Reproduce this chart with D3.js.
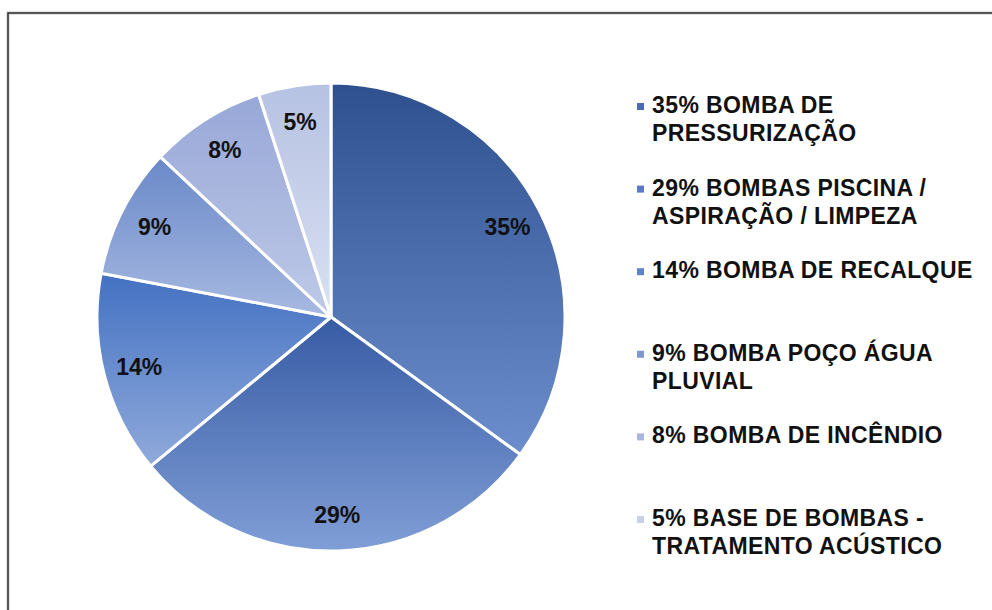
<!DOCTYPE html>
<html>
<head>
<meta charset="utf-8">
<script src="https://cdn.jsdelivr.net/npm/d3@7"></script>
<style>
  body { margin: 0; background: #fff; }
  text { font-family: "Liberation Sans", Arial, sans-serif; }
</style>
</head>
<body>
<div id="chart"></div>
<script>
// data
var categories = [
  "BOMBA DE\nPRESSURIZAÇÃO",
  "BOMBAS PISCINA /\nASPIRAÇÃO / LIMPEZA",
  "BOMBA DE RECALQUE",
  "BOMBA POÇO ÁGUA\nPLUVIAL",
  "BOMBA DE INCÊNDIO",
  "BASE DE BOMBAS -\nTRATAMENTO ACÚSTICO"
];
var values = [35, 29, 14, 9, 8, 5];
// gradient top / bottom per slice
var colorTop = ["#2e508f", "#375ba4", "#4371c2", "#6a89c9", "#97a7d7", "#b6c2e3"];
var colorBottom = ["#6c8ecd", "#809ed6", "#90aadb", "#a7b9e1", "#bfcae8", "#d9e0f1"];
var colorKey = ["#4a6db0", "#5a7cbf", "#5f83c9", "#8098d2", "#a8b6df", "#c8d1ea"];

var width = 992, height = 610;
var cx = 331, cy = 317, radius = 234;

var svg = d3.select("#chart")
  .append("svg")
  .attr("width", width)
  .attr("height", height);

// frame
svg.append("rect")
  .attr("x", 8)
  .attr("y", 13)
  .attr("width", 1000)
  .attr("height", 640)
  .style("fill", "none")
  .style("stroke", "#dcdcdc")
  .style("stroke-width", 3.5);
svg.append("rect")
  .attr("x", 8)
  .attr("y", 13)
  .attr("width", 1000)
  .attr("height", 640)
  .style("fill", "none")
  .style("stroke", "#2a2a2a")
  .style("stroke-width", 1.5);

var defs = svg.append("defs");
values.forEach(function(v, i) {
  var g = defs.append("linearGradient")
    .attr("id", "grad" + i)
    .attr("x1", 0).attr("y1", 0)
    .attr("x2", 0).attr("y2", 1);
  g.append("stop").attr("offset", "0%").attr("stop-color", colorTop[i]);
  g.append("stop").attr("offset", "100%").attr("stop-color", colorBottom[i]);
});

var pie = d3.pie().sort(null).value(function(d) { return d; });
var arcs = pie(values);

var arc = d3.arc().innerRadius(0).outerRadius(radius);
var labelArc = d3.arc().innerRadius(198).outerRadius(198);

var g = svg.append("g")
  .attr("transform", "translate(" + cx + "," + cy + ")");

g.selectAll(".slice")
  .data(arcs)
  .enter().append("path")
  .attr("class", "slice")
  .attr("d", arc)
  .style("fill", function(d, i) { return "url(#grad" + i + ")"; })
  .style("stroke", "#fff")
  .style("stroke-width", 3)
  .style("stroke-linejoin", "round");

g.selectAll(".lbl")
  .data(arcs)
  .enter().append("text")
  .attr("class", "lbl")
  .attr("x", function(d) { return labelArc.centroid(d)[0]; })
  .attr("y", function(d) { return labelArc.centroid(d)[1]; })
  .attr("text-anchor", "middle")
  .attr("dy", "0.36em")
  .style("font-size", "23px")
  .style("font-weight", "bold")
  .style("fill", "#111")
  .text(function(d) { return d.data + "%"; });

// legend
var legendY = d3.scaleLinear().domain([0, 1]).range([113, 195.6]);

var item = svg.selectAll(".legend")
  .data(values)
  .enter().append("g")
  .attr("class", "legend");

item.append("rect")
  .attr("x", 637)
  .attr("y", function(d, i) { return legendY(i) - 10; })
  .attr("width", 7)
  .attr("height", 7)
  .style("fill", function(d, i) { return colorKey[i]; });

item.append("text")
  .attr("x", 652)
  .attr("y", function(d, i) { return legendY(i); })
  .style("font-size", "23px")
  .style("font-weight", "bold")
  .style("letter-spacing", "0.4px")
  .style("fill", "#111")
  .each(function(d, i) {
    var lines = (d + "% " + categories[i]).split("\n");
    var t = d3.select(this);
    lines.forEach(function(line, k) {
      t.append("tspan")
        .attr("x", 652)
        .attr("dy", k === 0 ? 0 : 28)
        .text(line);
    });
  });
</script>
</body>
</html>
